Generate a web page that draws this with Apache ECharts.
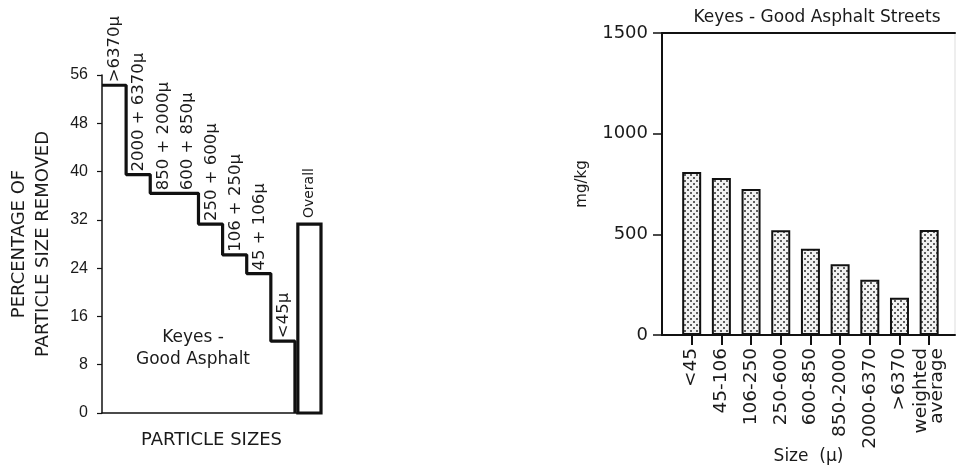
<!DOCTYPE html>
<html>
<head>
<meta charset="utf-8">
<script src="https://cdn.jsdelivr.net/npm/echarts@6/dist/echarts.min.js"></script>
<style>
html,body{margin:0;padding:0;background:#fff;}
#chart{width:957px;height:468px;}
</style>
</head>
<body>
<div id="chart"></div>
<script>
// ---- Left chart data: percentage of particle size removed ----
const leftCategories = ['>6370\u03bc', '2000 + 6370\u03bc', '850 + 2000\u03bc', '600 + 850\u03bc', '250 + 600\u03bc', '106 + 250\u03bc', '45 + 106\u03bc', '<45\u03bc'];
const leftValues = [54.3, 39.5, 36.4, 36.4, 31.3, 26.2, 23.1, 11.9];
const overallLabel = 'Overall';
const overallValue = 31.3;
const leftTicks = [0, 8, 16, 24, 32, 40, 48, 56];

// ---- Right chart data: mg/kg by size ----
const rightCategories = ['<45', '45-106', '106-250', '250-600', '600-850', '850-2000', '2000-6370', '>6370', 'weighted\naverage'];
const rightValues = [810, 780, 725, 520, 428, 352, 275, 185, 522];
const rightTicks = [0, 500, 1000, 1500];

const FONT = 'DejaVu Sans, Verdana, sans-serif';
const FONT2 = 'Liberation Sans, Arial, sans-serif';
const TXT = '#1a1a1a';

// stipple pattern for bars
const pc = document.createElement('canvas');
pc.width = 6; pc.height = 6;
const pctx = pc.getContext('2d');
pctx.fillStyle = '#f2f2f2';
pctx.fillRect(0, 0, 6, 6);
pctx.fillStyle = '#5e5e5e';
pctx.fillRect(0, 0, 2, 2);
pctx.fillRect(3, 3, 2, 2);

const stepData = leftValues.map((v, i) => [i, v]);
stepData.push([leftValues.length, leftValues[leftValues.length - 1]]);
stepData.push([leftValues.length, 0]);

const catPositions = rightCategories.map((c, i) => i + 1);

const chart = echarts.init(document.getElementById('chart'), null, {renderer: 'canvas'});

const option = {
  backgroundColor: '#fff',
  animation: false,
  title: {
    text: 'Keyes - Good Asphalt Streets',
    left: 812, top: 4, textAlign: 'center',
    textStyle: {fontFamily: FONT, fontSize: 17, fontWeight: 'normal', color: '#1a1a1a'}
  },
  grid: [
    {left: 102, top: 75, width: 219, height: 338, containLabel: false, outerBoundsMode: 'none'},
    {left: 662, top: 33, width: 293, height: 302, containLabel: false, outerBoundsMode: 'none'}
  ],
  xAxis: [
    {
      gridIndex: 0, type: 'value', min: 0, max: 9.08,
      axisLine: {show: true, onZero: false, lineStyle: {color: '#111', width: 1.5}},
      axisTick: {show: false}, axisLabel: {show: false}, splitLine: {show: false},
      name: 'PARTICLE SIZES', nameLocation: 'middle', nameGap: 18, nameMoveOverlap: false,
      nameTextStyle: {fontFamily: FONT, fontSize: 18, color: TXT, verticalAlign: 'top'}
    },
    {
      gridIndex: 1, type: 'value', min: 0, max: 9.87, interval: 1,
      axisLine: {show: true, onZero: false, lineStyle: {color: '#111', width: 2}},
      axisTick: {show: true, inside: false, length: 10, customValues: catPositions, lineStyle: {color: '#111', width: 2}},
      axisLabel: {
        show: true, rotate: 90, margin: 13, fontFamily: FONT, fontSize: 18.5, color: TXT,
        lineHeight: 16, customValues: catPositions,
        formatter: function (v) { const i = Math.round(v) - 1; return (i >= 0 && i < rightCategories.length) ? rightCategories[i] : ''; }
      },
      splitLine: {show: false},
      name: 'Size  (\u03bc)', nameLocation: 'middle', nameGap: 113, nameMoveOverlap: false,
      nameTextStyle: {fontFamily: FONT, fontSize: 17, color: TXT, verticalAlign: 'top'}
    },
    {
      gridIndex: 1, type: 'value', position: 'top', min: 0, max: 9.87,
      axisLine: {show: true, onZero: false, lineStyle: {color: '#111', width: 2}},
      axisTick: {show: false}, axisLabel: {show: false}, splitLine: {show: false}
    }
  ],
  yAxis: [
    {
      gridIndex: 0, type: 'value', min: leftTicks[0], max: leftTicks[leftTicks.length - 1], interval: leftTicks[1] - leftTicks[0],
      axisLine: {show: true, onZero: false, lineStyle: {color: '#111', width: 1.5}},
      axisTick: {show: true, inside: false, length: 5, lineStyle: {color: '#111', width: 1.2}},
      axisLabel: {show: true, margin: 14, fontFamily: FONT2, fontSize: 16, color: TXT},
      splitLine: {show: false},
      name: 'PERCENTAGE OF\nPARTICLE SIZE REMOVED', nameLocation: 'middle', nameRotate: 90, nameGap: 47, nameMoveOverlap: false,
      nameTextStyle: {fontFamily: FONT, fontSize: 18, color: TXT, lineHeight: 24}
    },
    {
      gridIndex: 1, type: 'value', min: rightTicks[0], max: rightTicks[rightTicks.length - 1], interval: rightTicks[1] - rightTicks[0],
      axisLine: {show: true, onZero: false, lineStyle: {color: '#111', width: 2}},
      axisTick: {show: true, inside: false, length: 9, lineStyle: {color: '#111', width: 1.5}},
      axisLabel: {show: true, margin: 14, fontFamily: FONT, fontSize: 18, color: TXT, formatter: function (v) { return String(v); }},
      splitLine: {show: false},
      name: 'mg/kg', nameLocation: 'middle', nameRotate: 90, nameGap: 72, nameMoveOverlap: false,
      nameTextStyle: {fontFamily: FONT, fontSize: 15, color: TXT}
    }
  ],
  series: [
    {
      type: 'line', xAxisIndex: 0, yAxisIndex: 0, step: 'end',
      data: stepData, symbol: 'none',
      lineStyle: {color: '#111', width: 3.2}, z: 5
    },
    {
      type: 'custom', xAxisIndex: 0, yAxisIndex: 0,
      data: leftValues.map((v, i) => [i + 0.5, v, i]),
      renderItem: function (params, api) {
        const p = api.coord([api.value(0), api.value(1)]);
        return {
          type: 'text', x: p[0] + 1, y: p[1] - 3, rotation: Math.PI / 2,
          style: {text: leftCategories[api.value(2)], fontFamily: FONT, fontSize: 16.5, fill: TXT, align: 'left', verticalAlign: 'middle'}
        };
      }, z: 6
    },
    {
      type: 'custom', xAxisIndex: 0, yAxisIndex: 0,
      data: [[leftValues.length + 0.12, overallValue]],
      renderItem: function (params, api) {
        const p0 = api.coord([api.value(0), api.value(1)]);
        const p1 = api.coord([api.value(0) + 0.96, 0]);
        const cx = (p0[0] + p1[0]) / 2;
        return {
          type: 'group', children: [
            {type: 'rect', shape: {x: p0[0], y: p0[1], width: p1[0] - p0[0], height: p1[1] - p0[1]},
             style: {fill: 'none', stroke: '#111', lineWidth: 3.2}},
            {type: 'text', x: cx, y: p0[1] - 6, rotation: Math.PI / 2,
             style: {text: overallLabel, fontFamily: FONT, fontSize: 14, fill: TXT, align: 'left', verticalAlign: 'middle'}}
          ]
        };
      }, z: 5
    },
    {
      type: 'bar', xAxisIndex: 1, yAxisIndex: 1,
      data: rightValues.map((v, i) => [i + 1, v]),
      barWidth: 19,
      itemStyle: {color: {image: pc, repeat: 'repeat'}, borderColor: '#111', borderWidth: 2}
    }
  ],
  graphic: [
    {type: 'text', x: 193, y: 338, style: {text: 'Keyes -', fontFamily: FONT, fontSize: 17, fill: TXT, align: 'center', verticalAlign: 'middle'}},
    {type: 'text', x: 193, y: 360, style: {text: 'Good Asphalt', fontFamily: FONT, fontSize: 17, fill: TXT, align: 'center', verticalAlign: 'middle'}},
    {type: 'line', shape: {x1: 955, y1: 33, x2: 955, y2: 335}, style: {stroke: '#ddd', lineWidth: 1}}
  ]
};
chart.setOption(option);
</script>
</body>
</html>
